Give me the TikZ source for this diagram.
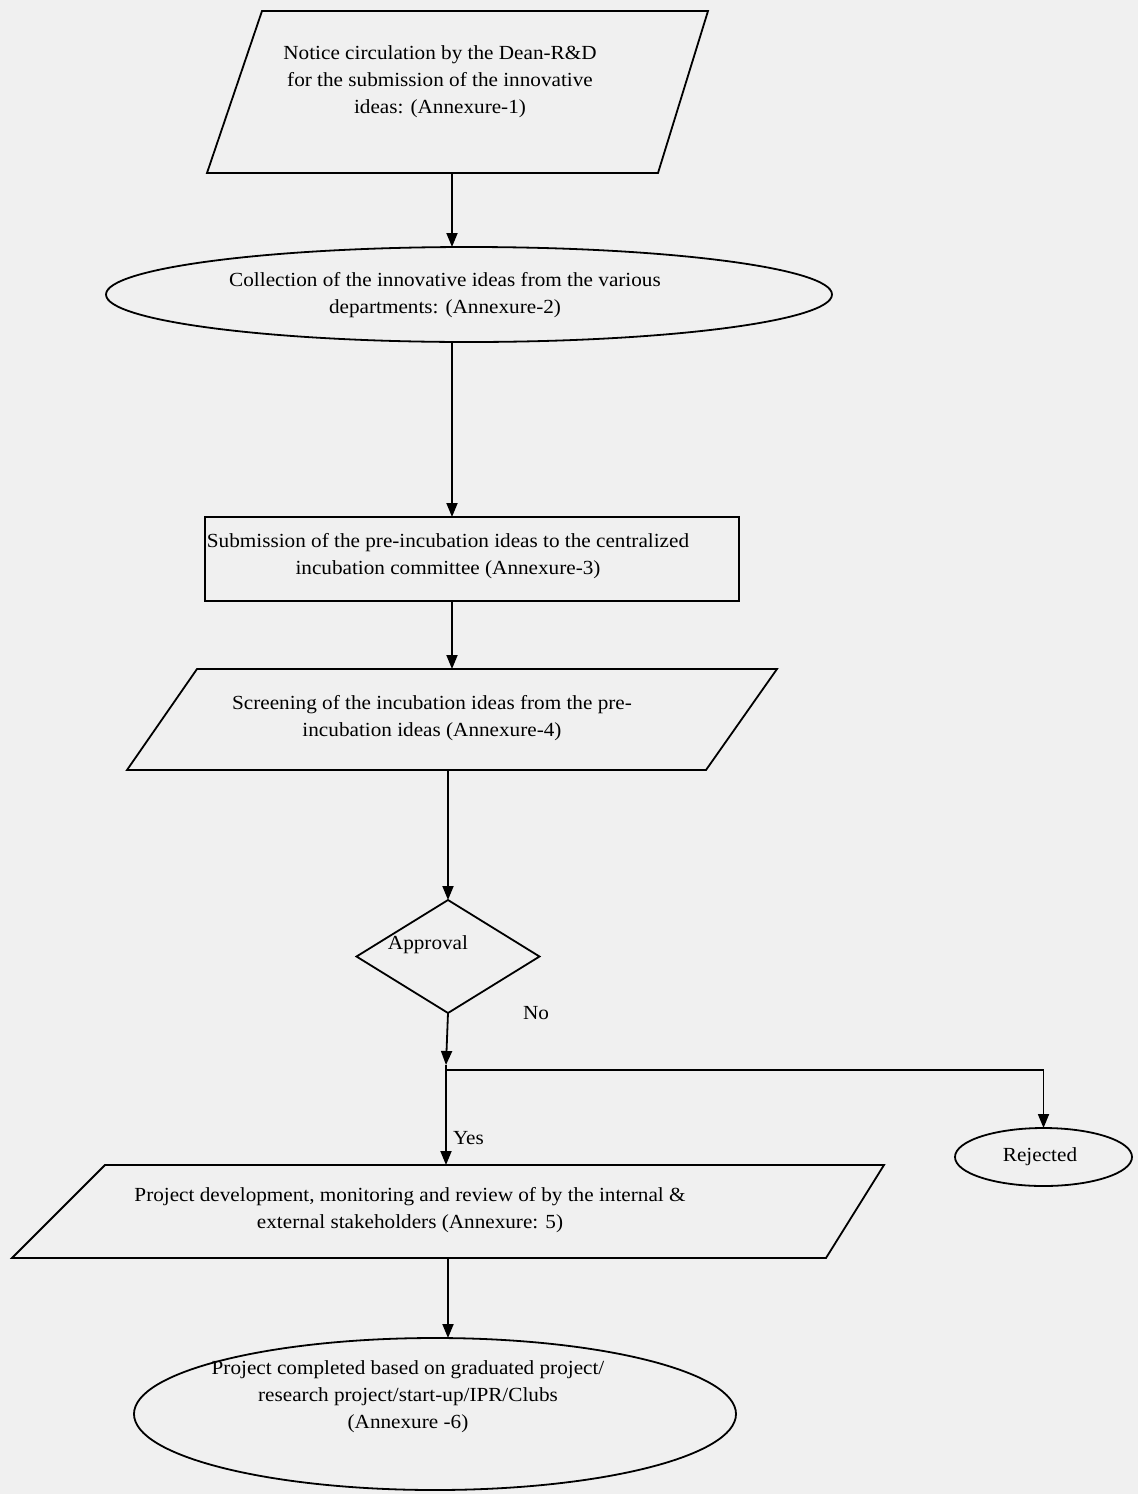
\documentclass[tikz,border=0pt]{standalone}
\usepackage{fontspec}
\setmainfont[FakeStretch=1.06]{Liberation Serif}
\usetikzlibrary{shapes.geometric,arrows.meta,calc}
\begin{document}
\begin{tikzpicture}[x=1pt,y=-1pt,
  line width=1.8pt,
  every node/.style={font=\fontsize{20}{27}\selectfont, inner sep=0pt, outer sep=0pt},
  frame/.style={draw=none, rectangle, inner sep=0pt},
  txt/.style={align=center},
  oval/.style={draw, ellipse, inner sep=0pt},
  arr/.style={-{Triangle[length=14pt,width=11pt]}}
]
\fill[black!6] (0,0) rectangle (1138,1494);
\useasboundingbox (0,0) rectangle (1138,1494);

% 1 parallelogram
\node[frame, minimum width=501, minimum height=162] (s1) at (457.5,92) {};
\draw ($(s1.north west)+(55,0)$) -- (s1.north east) -- ($(s1.south east)-(50,0)$) -- (s1.south west) -- cycle;
\node[txt] (t1) at (440,82) {Notice circulation by the Dean-R\&D\\for the submission of the innovative\\ideas: (Annexure-1)};

% 2 ellipse
\node[oval, minimum width=726, minimum height=95] (s2) at (469,294.5) {};
\node[txt] (t2) at (445,295) {Collection of the innovative ideas from the various\\departments: (Annexure-2)};

% 3 rectangle
\node[draw, rectangle, minimum width=534, minimum height=84] (s3) at (472,559) {};
\node[txt] (t3) at (448,556) {Submission of the pre-incubation ideas to the centralized\\incubation committee (Annexure-3)};

% 4 parallelogram
\node[frame, minimum width=650, minimum height=101] (s4) at (452,719.5) {};
\draw ($(s4.north west)+(70,0)$) -- (s4.north east) -- ($(s4.south east)-(71,0)$) -- (s4.south west) -- cycle;
\node[txt] (t4) at (432,718) {Screening of the incubation ideas from the pre-\\incubation ideas (Annexure-4)};

% diamond
\node[draw, diamond, minimum width=183, minimum height=113] (d) at (448,956.5) {};
\node (td) at (428,945) {Approval};

% 5 parallelogram
\node[frame, minimum width=872, minimum height=93] (s5) at (448,1211.5) {};
\draw ($(s5.north west)+(93,0)$) -- (s5.north east) -- ($(s5.south east)-(58,0)$) -- (s5.south west) -- cycle;
\node[txt] (t5) at (410,1210) {Project development, monitoring and review of by the internal \&\\external stakeholders (Annexure: 5)};

% 6 ellipse
\node[oval, minimum width=602, minimum height=152] (s6) at (435,1414) {};
\node[txt] (t6) at (408,1397) {Project completed based on graduated project/\\research project/start-up/IPR/Clubs\\(Annexure -6)};

% rejected
\node[oval, minimum width=177, minimum height=58] (rej) at (1043.5,1157) {};
\node (tr) at (1040,1157) {Rejected};

% connectors
\coordinate (c1) at (452,0);
\coordinate (c4) at (448,0);
\coordinate (c5) at (446,0);
\coordinate (j1) at (446,1065);
\coordinate (j2) at (446,1070);
\draw[arr] (s1.south -| c1) -- (s2.north -| c1);
\draw[arr] (s2.south -| c1) -- (s3.north -| c1);
\draw[arr] (s3.south -| c1) -- (s4.north -| c1);
\draw[arr] (s4.south -| c4) -- (d.north);
\draw[arr] (d.south) -- (j1);
\draw[arr] (j1) -- (s5.north -| c5);
\draw[arr] (j2) -| (rej.north);
\draw[arr] (s5.south -| c4) -- (s6.north -| c4);

\node[anchor=west] (yes) at (453,1138) {Yes};
\node (no) at (536,1013) {No};
\end{tikzpicture}
\end{document}
